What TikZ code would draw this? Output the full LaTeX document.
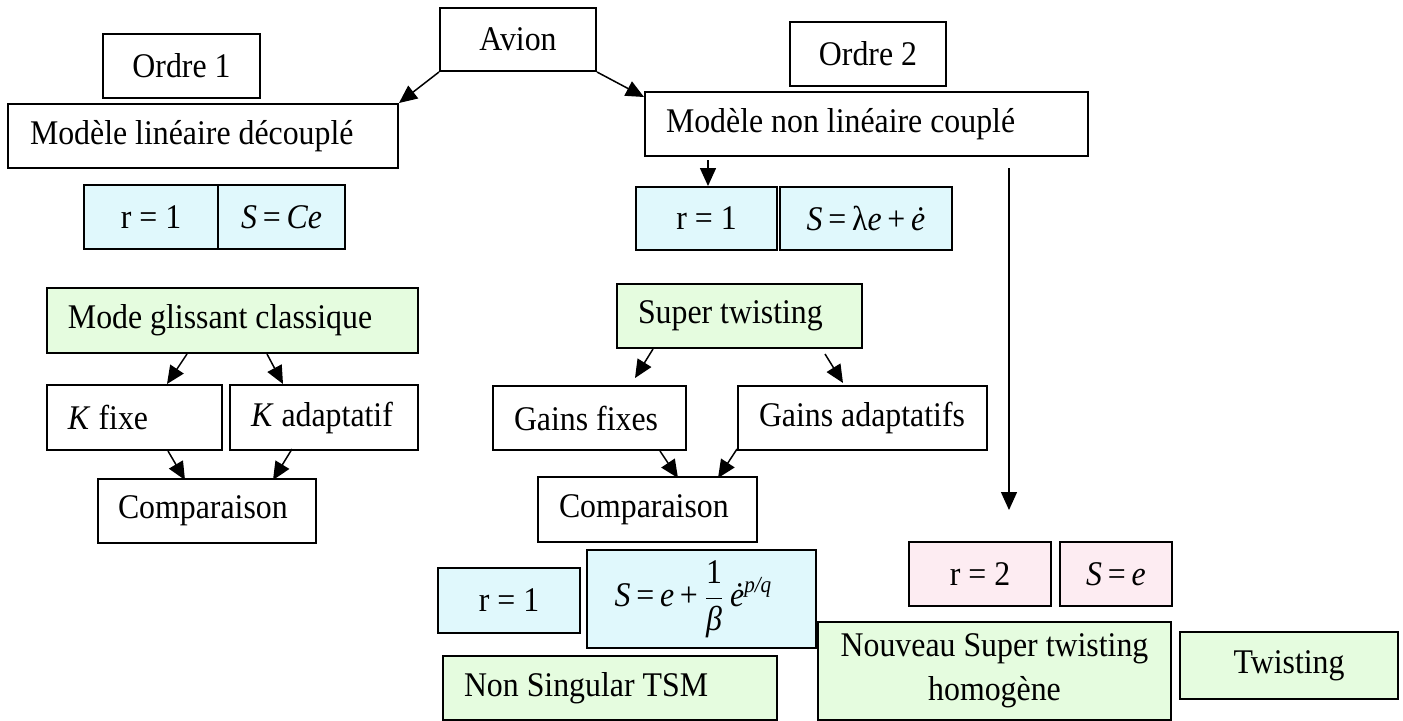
\documentclass[tikz,border=0pt]{standalone}
\usepackage{fontspec}
\setmainfont{Liberation Serif}[FakeStretch=0.92]
\usetikzlibrary{arrows.meta,calc}
\definecolor{cyanfill}{RGB}{224,248,252}
\definecolor{greenfill}{RGB}{229,252,223}
\definecolor{pinkfill}{RGB}{253,236,242}
\newcommand{\ti}[1]{\hbox{\itshape #1}}
\newcommand{\tu}[1]{\hbox{#1}}
\newcommand{\lx}[1]{\mbox{\spaceskip=0pt\xspaceskip=0pt #1}}
\begin{document}
\begin{tikzpicture}[x=0.5pt,y=-0.5pt,
  bx/.style={draw, line width=1pt, inner sep=0pt, anchor=north west,
             font=\fontsize{17.3}{20}\selectfont},
  lt/.style={align=left, text width=#1},
  cy/.style={fill=cyanfill},
  gr/.style={fill=greenfill},
  pk/.style={fill=pinkfill},
  arr/.style={line width=0.75pt, -{Triangle[length=9pt,width=8pt]}}]
\useasboundingbox (0,0) rectangle (1403,720);

% top row
\node[bx, minimum width=78pt, minimum height=31.5pt] (avion) at (439,7) {Avion};
\node[bx, minimum width=78.5pt, minimum height=32pt] (ordre1) at (102,33) {Ordre 1};
\node[bx, minimum width=78pt, minimum height=32pt] (ordre2) at (789,21) {Ordre 2};
\node[bx, minimum width=195pt, minimum height=32pt, lt=173pt] (mld) at (7,103) {\lx{Modèle linéaire découplé}};
\node[bx, minimum width=221.5pt, minimum height=32pt, lt=200.5pt] (mnlc) at (644,91) {\lx{Modèle non linéaire couplé}};

% sliding surfaces
\node[bx, cy, minimum width=67pt, minimum height=32pt] (r1a) at (83,184) {r = 1};
\node[bx, cy, minimum width=63.5pt, minimum height=32pt] (sca) at (217,184) {\textit{S}\,=\,\textit{Ce}};
\node[bx, cy, minimum width=70.5pt, minimum height=31.5pt] (r1b) at (635,186) {r = 1};
\node[bx, cy, minimum width=86pt, minimum height=31.5pt] (sb) at (779,186) {\textit{S}\,=\,λ\textit{e}\,+\,\textit{ė}};

% left branch
\node[bx, gr, minimum width=185.5pt, minimum height=32.5pt, lt=164.5pt] (mgc) at (46,287) {\lx{Mode glissant classique}};
\node[bx, minimum width=87.5pt, minimum height=32.5pt, lt=66.5pt] (kfixe) at (46,384) {\lx{\textit{K} fixe}};
\node[bx, minimum width=94pt, minimum height=32.5pt, lt=73pt] (kadapt) at (229,384) {\lx{\textit{K} adaptatif}};
\node[bx, minimum width=109pt, minimum height=32pt, lt=89pt] (compL) at (97,478) {\lx{Comparaison}};

% middle branch
\node[bx, gr, minimum width=122.5pt, minimum height=32pt, lt=101.5pt] (supertw) at (616,283) {\lx{Super twisting}};
\node[bx, minimum width=96.5pt, minimum height=32pt, lt=75.5pt] (gfix) at (492,385) {\lx{Gains fixes}};
\node[bx, minimum width=124.5pt, minimum height=32pt, lt=103.5pt] (gadapt) at (737,385) {\lx{Gains adaptatifs}};
\node[bx, minimum width=109.5pt, minimum height=32.5pt, lt=88.5pt] (compR) at (537,476) {\lx{Comparaison}};

% bottom
\node[bx, cy, minimum width=71pt, minimum height=32.5pt] (r1c) at (437,567) {r = 1};
\node[bx, cy, minimum width=114.5pt, minimum height=49pt] (sform) at (586,549)
  {$\displaystyle \ti{S}\,\tu{=}\,\ti{e}\,\tu{+}\,\frac{\tu{1}}{\ti{β}}\,\ti{ė}^{\hbox{\fontsize{11.5}{12}\selectfont\itshape p/q}}$\hspace*{8pt}};
\node[bx, gr, minimum width=167pt, minimum height=32pt, lt=146pt] (nstsm) at (442,655) {\lx{Non Singular TSM}};
\node[bx, pk, minimum width=71pt, minimum height=32pt] (r2) at (908,541) {r = 2};
\node[bx, pk, minimum width=56pt, minimum height=32pt] (se) at (1059,541) {\textit{S}\,=\,\textit{e}};
\node[bx, gr, minimum width=176.5pt, minimum height=49pt, align=center, font=\fontsize{17.3}{22}\selectfont] (nsth) at (817,621) {Nouveau Super twisting\\homogène};
\node[bx, gr, minimum width=109pt, minimum height=33.5pt] (twist) at (1179,631) {Twisting};

% connectors
\draw[arr] (avion.south west) -- (mld.north east);
\draw[arr] (avion.south east) -- ($(mnlc.north west)+(0,6)$);
\draw[arr] ($(mnlc.south west)+(64,3)$) -- ($(r1b.north west)+(73,0)$);
\coordinate (lt) at (1009,510);
\draw[arr, line width=0.65pt] ($(mnlc.south west)+(365,11)$) -- (lt);

\draw[arr] ($(mgc.south west)+(141,0)$) -- ($(kfixe.north west)+(121,0)$);
\draw[arr] ($(mgc.south west)+(221,0)$) -- ($(kadapt.north west)+(54,0)$);
\draw[arr] ($(kfixe.south west)+(122,0)$) -- ($(compL.north west)+(88,2)$);
\draw[arr] ($(kadapt.south west)+(63,-2)$) -- ($(compL.north west)+(176,2)$);

\draw[arr] ($(supertw.south west)+(37,0)$) -- ($(gfix.north west)+(143,-7)$);
\draw[arr] ($(supertw.south west)+(209,5)$) -- ($(gadapt.north west)+(106,-2)$);
\draw[arr] ($(gfix.south west)+(168,0)$) -- ($(compR.north west)+(141,2)$);
\draw[arr] ($(gadapt.south west)+(0,-2)$) -- ($(compR.north west)+(181,2)$);
\end{tikzpicture}
\end{document}
